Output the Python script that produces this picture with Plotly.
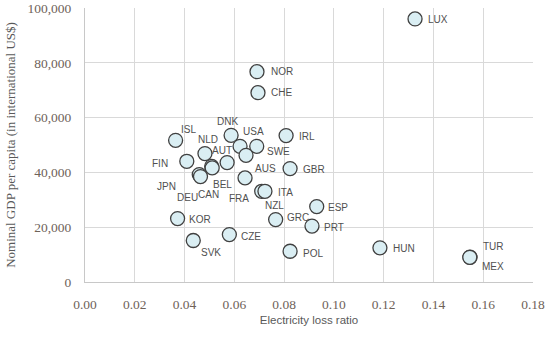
import plotly.graph_objects as go

countries = ["LUX", "NOR", "CHE", "DNK", "ISL", "IRL", "USA", "SWE", "AUS", "NLD",
             "AUT", "FIN", "BEL", "CAN", "JPN", "DEU", "GBR", "NZL", "FRA", "ITA",
             "ESP", "GRC", "PRT", "KOR", "CZE", "SVK", "POL", "HUN", "TUR", "MEX"]
loss_ratio = [0.1326, 0.0691, 0.0695, 0.0587, 0.0364, 0.0808, 0.0623, 0.0690, 0.0647, 0.0482,
              0.0571, 0.0409, 0.0509, 0.0511, 0.0459, 0.0464, 0.0824, 0.0643, 0.0710, 0.0723,
              0.0931, 0.0766, 0.0912, 0.0372, 0.0580, 0.0435, 0.0824, 0.1185, 0.1547, 0.1546]
gdp_per_capita = [96000, 76770, 69110, 53540, 51710, 53430, 49530, 49530, 46240, 46860,
                  43580, 44060, 42230, 41650, 39200, 38480, 41390, 38000, 33110, 33110,
                  27530, 22790, 20420, 23160, 17320, 15140, 11230, 12470, 9040, 9000]

# label offsets in pixels (style only): (dx right, dy down)
label_offsets = [(23, 1), (25, 0), (24, 0), (-4, -13.7), (12.8, -10.7), (21, 1), (13, -14.7),
                 (21.3, 5.3), (19, 13.3), (3, -14), (-5, -12), (-26.7, 2.3), (11.3, 18.3),
                 (-3.3, 26.7), (-32.3, 12), (-13, 21), (24, 1), (29.5, 27.7), (-22.7, 7.3),
                 (21, 1), (21.3, 1), (22.3, -2), (22, 1.5), (22.5, 1), (21.7, 2), (17.7, 12),
                 (23, 1.8), (24.5, 1), (23, -10.4), (23.5, 9.6)]

fig = go.Figure()
fig.add_trace(go.Scatter(
    x=loss_ratio, y=gdp_per_capita, mode="markers",
    marker=dict(size=14, color="#DAEEF3", line=dict(color="#404040", width=1.3)),
    hoverinfo="text", text=countries, showlegend=False,
))

for c, x, y, (dx, dy) in zip(countries, loss_ratio, gdp_per_capita, label_offsets):
    fig.add_annotation(x=x, y=y, xref="x", yref="y", text=c, showarrow=False,
                       xshift=dx, yshift=-dy,
                       font=dict(family="Liberation Sans", size=10, color="#505050"))

tick_font = dict(family="Liberation Serif", size=13.5, color="#6e6259")
fig.update_xaxes(range=[0, 0.18], dtick=0.02, tickformat=".2f", showgrid=True,
                 gridcolor="#d9d9d9", gridwidth=1, zeroline=False, showline=True,
                 linecolor="#c8c8c8", linewidth=1, tickfont=tick_font, ticks="",
                 ticklabelstandoff=10, automargin=False,
                 title=dict(text="Electricity loss ratio", standoff=4,
                            font=dict(family="Liberation Sans", size=11.5, color="#595959")))
fig.update_yaxes(range=[0, 100000], dtick=20000, tickformat=",", showgrid=True,
                 gridcolor="#d9d9d9", gridwidth=1, zeroline=False, showline=True,
                 linecolor="#c8c8c8", linewidth=1, tickfont=tick_font, ticks="",
                 ticklabelstandoff=10, automargin=False,
                 title=dict(text="Nominal GDP per capita (in international US$)", standoff=8,
                            font=dict(family="Liberation Serif", size=13, color="#595959")))

fig.update_layout(width=550, height=340, margin=dict(l=85, r=17, t=8, b=57.5),
                  plot_bgcolor="white", paper_bgcolor="white")
fig.write_html("out.html", config={"displayModeBar": False},
               post_script="document.body.style.margin='0';document.body.style.overflow='hidden';")
